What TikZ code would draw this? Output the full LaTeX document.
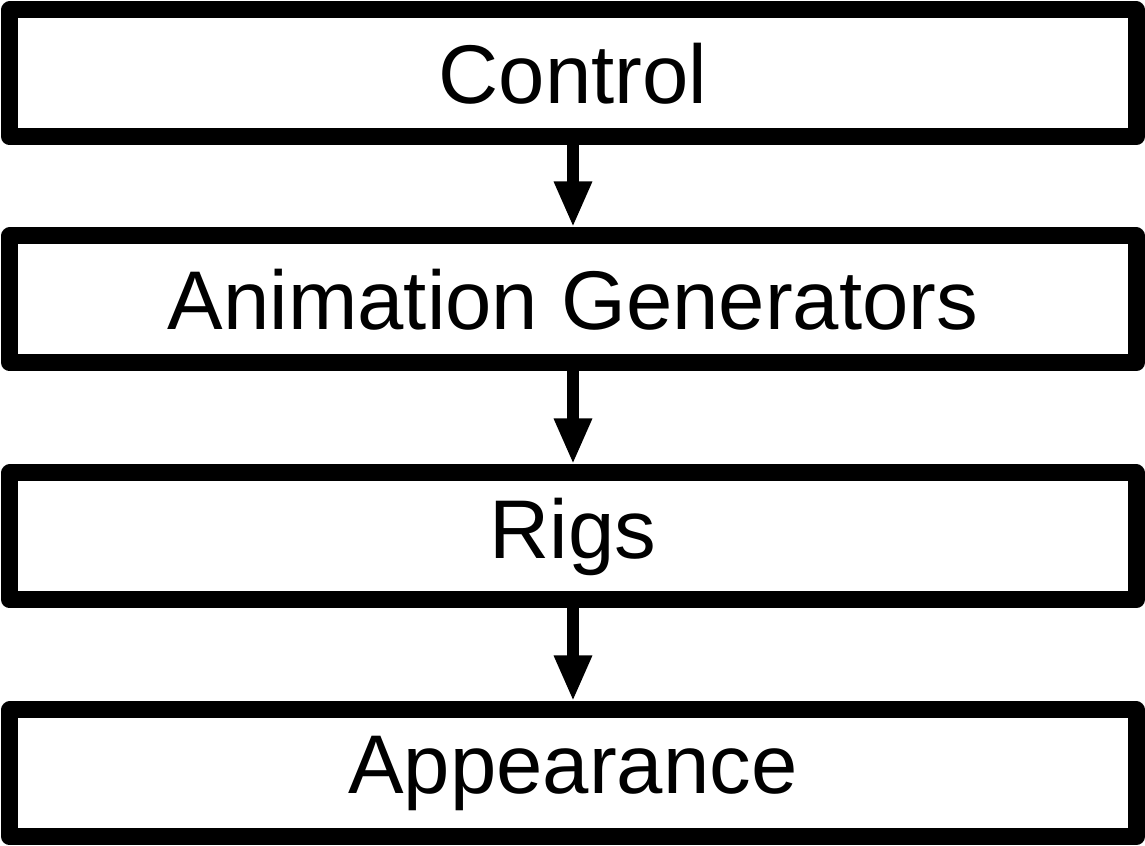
\documentclass[tikz,border=0pt]{standalone}
\usepackage{fontspec}
\setmainfont{Liberation Sans}
\usetikzlibrary{positioning,arrows.meta}

\begin{document}
\begin{tikzpicture}[-{Triangle[width=0.35cm,length=0.46cm]},node distance=0.93cm,line width=0.12cm,main node/.style={rectangle,draw,line width=0.17cm,line join=round,minimum width=11.26cm,minimum height=1.27cm,inner sep=0pt,font=\fontsize{23.7}{28}\selectfont}]
                \useasboundingbox (0,0) rectangle (11.45,-8.46);
                \node[main node] (control) at (5.73,-0.735) {Control};
                \node[main node] (generators) [below=0.82cm of control] {Animation Generators};
                \node[main node] (rigs) [below=of generators] {Rigs};
                \node[main node] (appearance) [below=of rigs] {Appearance};

                \path
                    (control) edge (generators)
                    (generators) edge (rigs)
                    (rigs) edge (appearance)
                    ;
            \end{tikzpicture}
\end{document}
